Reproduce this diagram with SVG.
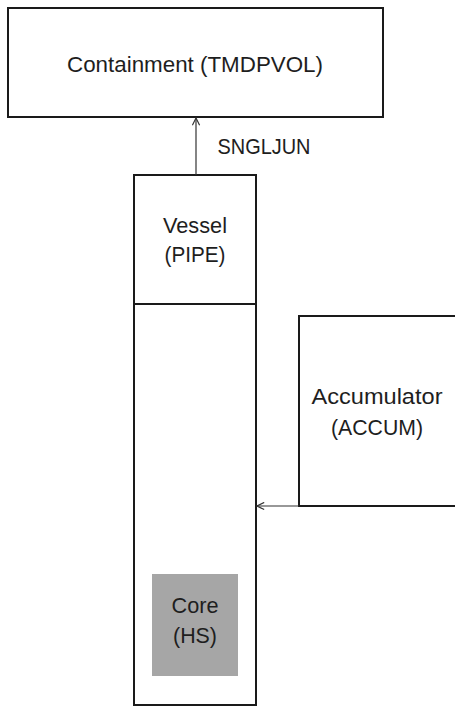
<svg xmlns="http://www.w3.org/2000/svg" width="455" height="707" viewBox="0 0 455 707">
<style>
.box{fill:#fff;stroke:#1a1a1a;stroke-width:2}
.t{font-family:"Liberation Sans",Arial,sans-serif;font-size:21.5px;fill:#1e1e1e;text-anchor:middle}
.c{stroke:#333;stroke-width:1.2;fill:none}
</style>
<defs>
<marker id="ah" viewBox="0 0 10 10" refX="9" refY="5" markerWidth="9" markerHeight="9" markerUnits="userSpaceOnUse" orient="auto">
<path d="M1,1 L9,5 L1,9" fill="none" stroke="#333" stroke-width="1.3"/>
</marker>
</defs>
<rect width="455" height="707" fill="#fff"/>
<g id="containment">
<rect class="box" x="8" y="8" width="375" height="109"/>
<text class="t" x="195" y="72" textLength="256" lengthAdjust="spacingAndGlyphs">Containment (TMDPVOL)</text>
</g>
<g id="vessel">
<rect class="box" x="134" y="175" width="122" height="530"/>
<line x1="134" y1="304" x2="256" y2="304" stroke="#1a1a1a" stroke-width="2"/>
<text class="t" x="195" y="233" textLength="64" lengthAdjust="spacingAndGlyphs">Vessel</text>
<text class="t" x="195" y="262" textLength="61" lengthAdjust="spacingAndGlyphs">(PIPE)</text>
</g>
<g id="core">
<rect x="152" y="574" width="86" height="102" fill="#a6a6a6"/>
<text class="t" x="195" y="613" textLength="47" lengthAdjust="spacingAndGlyphs">Core</text>
<text class="t" x="195" y="643" textLength="44" lengthAdjust="spacingAndGlyphs">(HS)</text>
</g>
<g id="accumulator">
<rect class="box" x="299" y="316" width="170" height="190"/>
<text class="t" x="377" y="404" textLength="131" lengthAdjust="spacingAndGlyphs">Accumulator</text>
<text class="t" x="377" y="435" textLength="92" lengthAdjust="spacingAndGlyphs">(ACCUM)</text>
</g>
<g id="connectors">
<line class="c" x1="196" y1="175" x2="196" y2="118" marker-end="url(#ah)"/>
<text class="t" x="264" y="154" textLength="93" lengthAdjust="spacingAndGlyphs">SNGLJUN</text>
<line class="c" x1="299" y1="506" x2="257" y2="506" marker-end="url(#ah)"/>
</g>
</svg>
